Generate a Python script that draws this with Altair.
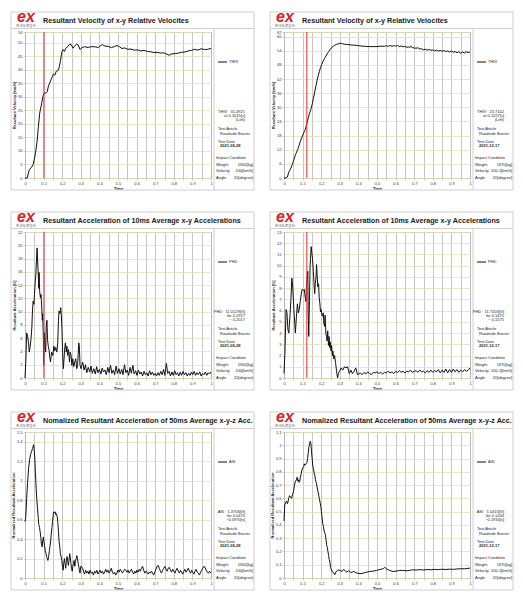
import altair as alt
import pandas as pd

# ---------------- data ----------------
TIME_TICKS = [round(i * 0.05, 2) for i in range(21)]

THIV_L = [(0,0),(0.012,0),(0.023,3.0),(0.035,4.0),(0.044,5.0),(0.056,9.0),(0.065,13.5),(0.072,19.0),
    (0.079,24.0),(0.088,27.0),(0.096,30.0),(0.102,31.3),(0.114,31.5),(0.12,32.0),(0.126,34.0),(0.135,35.5),
    (0.144,37.0),(0.153,38.5),(0.16,38.0),(0.168,39.5),(0.177,39.7),(0.184,41.0),(0.191,43.5),(0.198,46.5),
    (0.205,47.5),(0.212,46.8),(0.219,48.0),(0.23,48.6),(0.24,49.5),(0.249,49.3),(0.258,48.0),(0.267,48.8),
    (0.277,49.5),(0.286,49.2),(0.296,47.5),(0.307,48.2),(0.321,48.6),(0.333,48.3),(0.347,48.4),(0.36,48.6),
    (0.377,48.5),(0.395,48.3),(0.407,49.0),(0.416,49.3),(0.43,48.8),(0.447,48.7),(0.465,48.2),(0.482,48.7),
    (0.495,49.0),(0.509,48.5),(0.521,47.9),(0.535,48.1),(0.553,47.6),(0.57,47.7),(0.588,47.3),(0.605,47.4),
    (0.623,47.0),(0.64,47.2),(0.658,46.8),(0.675,46.7),(0.693,46.4),(0.71,46.5),(0.728,46.2),(0.746,46.3),
    (0.763,45.8),(0.775,45.4),(0.789,45.9),(0.807,46.0),(0.825,46.2),(0.842,46.5),(0.86,46.6),(0.877,47.0),
    (0.895,47.2),(0.912,47.6),(0.93,47.3),(0.947,47.8),(0.965,47.5),(0.982,47.6),(1.0,47.9)]

THIV_R = [(0,0),(0.01,0),(0.018,0.4),(0.026,2.5),(0.033,3.5),(0.039,4.6),(0.045,5.8),(0.05,7.0),(0.056,8.5),
    (0.062,10.0),(0.068,11.0),(0.074,12.2),(0.081,13.8),(0.088,15.6),(0.095,17.0),(0.102,18.4),(0.108,19.5),
    (0.114,20.5),(0.12,22.2),(0.126,24.0),(0.132,26.0),(0.137,27.4),(0.142,28.5),(0.146,29.5),(0.152,31.5),
    (0.158,33.7),(0.165,36.5),(0.172,39.2),(0.178,41.5),(0.184,43.4),(0.19,45.2),(0.196,46.8),(0.203,48.3),
    (0.21,49.6),(0.218,50.8),(0.225,51.7),(0.232,52.7),(0.24,53.7),(0.248,54.6),(0.256,55.4),(0.264,55.9),
    (0.272,56.3),(0.28,56.7),(0.289,56.9),(0.296,57.1),(0.304,57.2),(0.315,57.0),(0.325,56.8),(0.34,56.7),
    (0.36,56.5),(0.38,56.4),(0.4,56.2),(0.42,56.0),(0.44,55.9),(0.46,55.8),(0.48,55.8),(0.5,55.8),(0.52,56.0),
    (0.54,55.9),(0.55,56.2),(0.56,55.9),(0.57,56.3),(0.58,55.9),(0.59,56.2),(0.6,56.0),(0.61,56.3),(0.62,55.8),
    (0.63,56.1),(0.64,55.7),(0.65,55.9),(0.66,55.5),(0.67,55.7),(0.675,55.3),(0.68,56.0),(0.69,55.4),(0.7,55.2),
    (0.71,55.1),(0.72,55.3),(0.73,54.8),(0.74,54.9),(0.75,54.4),(0.76,54.7),(0.77,54.3),(0.78,54.6),(0.79,54.2),
    (0.8,54.4),(0.81,54.0),(0.82,54.3),(0.83,53.9),(0.84,54.2),(0.85,53.8),(0.86,54.1),(0.87,53.7),(0.88,54.0),
    (0.89,53.5),(0.9,53.9),(0.91,53.4),(0.92,53.7),(0.93,53.2),(0.94,53.6),(0.95,53.0),(0.96,53.5),(0.97,53.1),
    (0.98,53.6),(0.99,53.3),(1.0,53.5)]

PHD_L = [(0,0),(0.005,3.0),(0.009,6.8),(0.014,6.3),(0.019,5.3),(0.023,3.9),(0.028,4.8),(0.032,5.8),(0.037,7.7),
    (0.04,10.1),(0.044,11.6),(0.048,11.1),(0.051,12.6),(0.055,14.5),(0.058,15.5),(0.062,17.9),(0.065,19.6),
    (0.067,18.4),(0.07,16.4),(0.072,15.0),(0.074,13.5),(0.076,15.9),(0.079,13.0),(0.083,12.1),(0.086,12.6),
    (0.09,10.6),(0.093,8.7),(0.095,9.7),(0.099,5.8),(0.1,1.9),(0.104,6.8),(0.107,5.3),(0.111,3.9),(0.114,7.7),
    (0.118,8.7),(0.121,5.8),(0.125,4.8),(0.129,4.3),(0.132,3.4),(0.137,2.4),(0.143,3.9),(0.15,3.4),(0.155,4.8),
    (0.16,4.1),(0.165,4.6),(0.171,3.9),(0.176,5.3),(0.18,8.7),(0.183,10.1),(0.188,9.7),(0.192,10.6),(0.195,9.7),
    (0.199,7.2),(0.202,3.9),(0.206,1.4),(0.21,2.9),(0.213,4.3),(0.217,5.3),(0.222,3.9),(0.225,4.8),(0.229,3.4),
    (0.234,4.3),(0.239,2.4),(0.243,3.9),(0.248,3.4),(0.252,1.9),(0.257,2.9),(0.262,1.7),(0.268,2.4),(0.273,2.9),
    (0.278,1.4),(0.283,1.9),(0.289,5.3),(0.292,4.8),(0.296,1.9),(0.301,1.4),(0.31,2.4),(0.318,1.2),(0.325,2.0),
    (0.332,0.8),(0.34,1.6),(0.348,0.9),(0.355,1.8),(0.362,0.7),(0.37,1.4),(0.378,0.6),(0.385,1.7),(0.392,0.8),
    (0.4,1.3),(0.408,0.6),(0.415,1.5),(0.422,0.9),(0.43,1.2),(0.437,0.5),(0.445,1.6),(0.452,0.8),(0.46,1.9),
    (0.467,0.7),(0.475,1.2),(0.482,0.5),(0.49,1.8),(0.497,0.7),(0.505,1.4),(0.512,0.6),(0.52,1.3),(0.527,0.5),
    (0.535,2.0),(0.542,0.8),(0.55,1.2),(0.557,0.4),(0.565,1.6),(0.572,0.7),(0.58,1.9),(0.587,0.6),(0.595,1.1),
    (0.602,0.4),(0.61,1.2),(0.617,0.6),(0.625,0.9),(0.632,0.3),(0.64,1.0),(0.647,0.5),(0.655,0.8),(0.662,0.3),
    (0.67,1.1),(0.677,0.5),(0.685,0.9),(0.692,0.4),(0.7,0.7),(0.707,0.3),(0.715,0.8),(0.722,0.4),(0.73,1.0),
    (0.737,0.5),(0.745,1.3),(0.752,0.4),(0.76,2.2),(0.767,0.7),(0.775,1.0),(0.782,0.3),(0.79,0.9),(0.797,0.4),
    (0.805,1.1),(0.812,0.5),(0.82,0.8),(0.827,0.3),(0.835,0.9),(0.842,0.4),(0.85,1.0),(0.857,0.5),(0.865,0.8),
    (0.872,0.3),(0.88,0.7),(0.887,0.4),(0.895,0.9),(0.902,0.5),(0.91,1.0),(0.917,0.4),(0.925,0.8),(0.932,0.5),
    (0.94,0.9),(0.947,0.3),(0.955,0.7),(0.962,0.5),(0.97,0.9),(0.977,0.4),(0.985,0.8),(0.992,0.6),(1.0,0.9)]

PHD_R = [(0,0.4),(0.005,2.3),(0.011,6.1),(0.016,5.8),(0.021,4.3),(0.026,4.0),(0.032,5.5),(0.037,6.9),(0.042,8.9),
    (0.047,8.1),(0.053,6.1),(0.058,4.8),(0.061,4.0),(0.067,5.5),(0.072,6.6),(0.077,5.8),(0.082,6.1),(0.088,6.9),
    (0.093,7.5),(0.098,7.9),(0.104,7.8),(0.109,7.9),(0.114,7.2),(0.118,6.8),(0.121,8.4),(0.125,8.9),(0.128,9.5),
    (0.13,5.8),(0.133,3.7),(0.137,6.9),(0.14,9.8),(0.146,11.7),(0.149,11.2),(0.153,10.7),(0.158,9.5),(0.161,8.5),
    (0.165,7.5),(0.168,8.4),(0.172,8.9),(0.175,10.1),(0.179,8.9),(0.182,8.1),(0.186,8.4),(0.189,7.2),(0.193,6.6),
    (0.196,5.9),(0.2,6.1),(0.204,5.6),(0.207,5.5),(0.211,5.8),(0.214,4.9),(0.218,4.6),(0.221,5.6),(0.225,4.0),
    (0.228,3.7),(0.232,3.3),(0.235,4.2),(0.239,2.9),(0.242,3.7),(0.246,2.7),(0.249,3.2),(0.253,2.4),(0.256,2.9),
    (0.26,2.0),(0.263,2.4),(0.267,1.7),(0.272,2.0),(0.277,1.4),(0.282,0.7),(0.288,0.0),(0.293,0.4),(0.298,0.6),
    (0.307,0.9),(0.316,0.7),(0.325,1.0),(0.333,0.9),(0.342,1.0),(0.351,0.4),(0.36,0.7),(0.368,0.4),(0.377,0.6),
    (0.386,0.9),(0.395,0.3),(0.41,0.45),(0.42,0.3),(0.43,0.5),(0.44,0.35),(0.45,0.55),(0.46,0.4),(0.47,0.3),
    (0.48,0.5),(0.49,0.45),(0.5,0.55),(0.51,0.4),(0.52,0.5),(0.53,0.35),(0.54,0.5),(0.55,0.45),(0.56,0.6),
    (0.57,0.45),(0.58,0.55),(0.59,0.4),(0.6,0.6),(0.61,0.5),(0.62,0.65),(0.63,0.5),(0.64,0.6),(0.65,0.45),
    (0.66,0.6),(0.67,0.55),(0.68,0.7),(0.69,0.5),(0.7,0.6),(0.71,0.65),(0.72,0.5),(0.73,0.7),(0.74,0.55),
    (0.75,0.6),(0.76,0.45),(0.77,0.65),(0.78,0.5),(0.79,0.7),(0.8,0.5),(0.81,0.65),(0.82,0.55),(0.83,0.75),
    (0.84,0.45),(0.85,0.7),(0.86,0.5),(0.87,0.8),(0.88,0.45),(0.89,0.75),(0.9,0.5),(0.91,0.8),(0.92,0.55),
    (0.93,0.75),(0.94,0.5),(0.95,0.7),(0.96,0.55),(0.97,0.75),(0.98,0.6),(0.99,0.7),(1.0,0.9)]

ASI_L = [(0,0.58),(0.004,0.62),(0.009,0.82),(0.014,0.98),(0.019,1.12),(0.025,1.22),(0.03,1.27),(0.035,1.3),
    (0.041,1.33),(0.046,1.37),(0.049,1.33),(0.053,1.22),(0.056,1.08),(0.06,0.92),(0.063,0.82),(0.067,0.72),
    (0.071,0.62),(0.074,0.55),(0.078,0.52),(0.081,0.48),(0.085,0.42),(0.088,0.35),(0.092,0.32),(0.095,0.38),
    (0.099,0.42),(0.102,0.37),(0.106,0.32),(0.109,0.28),(0.113,0.25),(0.116,0.22),(0.12,0.2),(0.123,0.18),
    (0.127,0.22),(0.131,0.28),(0.134,0.32),(0.138,0.38),(0.141,0.45),(0.145,0.52),(0.148,0.58),(0.152,0.65),
    (0.155,0.68),(0.159,0.67),(0.162,0.68),(0.166,0.65),(0.169,0.66),(0.173,0.63),(0.176,0.58),(0.18,0.48),
    (0.183,0.38),(0.187,0.32),(0.19,0.25),(0.194,0.22),(0.198,0.18),(0.201,0.12),(0.205,0.08),(0.208,0.15),
    (0.212,0.2),(0.215,0.15),(0.219,0.1),(0.222,0.17),(0.226,0.22),(0.229,0.18),(0.233,0.13),(0.236,0.17),
    (0.24,0.25),(0.243,0.22),(0.247,0.15),(0.25,0.1),(0.254,0.07),(0.257,0.12),(0.261,0.15),(0.264,0.18),
    (0.268,0.12),(0.271,0.17),(0.275,0.2),(0.279,0.23),(0.282,0.2),(0.286,0.15),(0.289,0.12),(0.293,0.07),
    (0.296,0.05),(0.3,0.12),(0.303,0.12),(0.31,0.1),(0.315,0.06),(0.32,0.04),(0.326,0.08),(0.332,0.05),
    (0.338,0.07),(0.344,0.04),(0.35,0.08),(0.356,0.05),(0.362,0.06),(0.368,0.03),(0.374,0.07),(0.38,0.05),
    (0.386,0.08),(0.392,0.04),(0.398,0.06),(0.404,0.08),(0.41,0.05),(0.416,0.07),(0.422,0.04),(0.428,0.06),
    (0.434,0.09),(0.44,0.06),(0.446,0.08),(0.452,0.05),(0.458,0.07),(0.464,0.1),(0.47,0.06),(0.476,0.04),
    (0.482,0.06),(0.488,0.03),(0.494,0.05),(0.5,0.08),(0.506,0.06),(0.512,0.09),(0.518,0.07),(0.524,0.05),
    (0.53,0.07),(0.536,0.09),(0.542,0.08),(0.548,0.06),(0.554,0.08),(0.56,0.05),(0.566,0.07),(0.572,0.09),
    (0.578,0.06),(0.584,0.04),(0.59,0.07),(0.596,0.05),(0.602,0.08),(0.608,0.06),(0.614,0.09),(0.62,0.07),
    (0.626,0.1),(0.632,0.12),(0.638,0.08),(0.644,0.05),(0.65,0.07),(0.656,0.06),(0.662,0.04),(0.668,0.06),
    (0.674,0.05),(0.68,0.07),(0.686,0.05),(0.692,0.03),(0.698,0.06),(0.704,0.09),(0.71,0.12),(0.716,0.13),
    (0.722,0.1),(0.728,0.07),(0.734,0.05),(0.74,0.08),(0.746,0.1),(0.752,0.12),(0.758,0.09),(0.764,0.07),
    (0.77,0.1),(0.776,0.11),(0.782,0.08),(0.788,0.06),(0.794,0.09),(0.8,0.07),(0.806,0.05),(0.812,0.08),
    (0.818,0.1),(0.824,0.07),(0.83,0.05),(0.836,0.08),(0.842,0.06),(0.848,0.04),(0.854,0.07),(0.86,0.09),
    (0.866,0.06),(0.872,0.08),(0.878,0.1),(0.884,0.07),(0.89,0.05),(0.896,0.08),(0.902,0.06),(0.908,0.04),
    (0.914,0.07),(0.92,0.09),(0.926,0.06),(0.932,0.05),(0.938,0.03),(0.944,0.06),(0.95,0.08),(0.956,0.1),
    (0.962,0.12),(0.968,0.11),(0.974,0.08),(0.98,0.06),(0.986,0.05),(0.992,0.07),(1.0,0.05)]

ASI_R = [(0,0.43),(0.004,0.55),(0.009,0.57),(0.014,0.58),(0.018,0.56),(0.021,0.57),(0.025,0.6),(0.03,0.62),
    (0.035,0.61),(0.041,0.6),(0.046,0.63),(0.051,0.65),(0.056,0.7),(0.062,0.73),(0.067,0.74),(0.071,0.76),
    (0.074,0.73),(0.078,0.74),(0.081,0.72),(0.085,0.73),(0.088,0.76),(0.092,0.78),(0.095,0.81),(0.101,0.83),
    (0.106,0.84),(0.109,0.86),(0.113,0.85),(0.118,0.86),(0.123,0.87),(0.127,0.9),(0.131,0.95),(0.134,0.99),
    (0.138,1.01),(0.141,1.03),(0.145,1.01),(0.148,0.95),(0.152,0.89),(0.155,0.84),(0.159,0.82),(0.162,0.79),
    (0.166,0.77),(0.169,0.74),(0.173,0.72),(0.176,0.7),(0.18,0.67),(0.183,0.65),(0.187,0.62),(0.19,0.6),
    (0.194,0.57),(0.198,0.54),(0.201,0.5),(0.205,0.45),(0.208,0.41),(0.212,0.39),(0.215,0.36),(0.219,0.34),
    (0.222,0.33),(0.226,0.29),(0.229,0.25),(0.233,0.23),(0.236,0.2),(0.24,0.17),(0.243,0.14),(0.247,0.12),
    (0.25,0.08),(0.256,0.06),(0.261,0.044),(0.268,0.037),(0.273,0.025),(0.279,0.045),(0.286,0.057),(0.295,0.06),
    (0.303,0.057),(0.312,0.049),(0.321,0.066),(0.33,0.052),(0.339,0.044),(0.347,0.057),(0.356,0.044),
    (0.365,0.042),(0.374,0.049),(0.392,0.037),(0.409,0.032),(0.427,0.037),(0.444,0.044),(0.462,0.049),
    (0.48,0.052),(0.497,0.057),(0.515,0.064),(0.533,0.069),(0.541,0.081),(0.55,0.069),(0.568,0.057),
    (0.586,0.049),(0.603,0.052),(0.621,0.057),(0.638,0.057),(0.656,0.054),(0.674,0.057),(0.691,0.062),
    (0.71,0.06),(0.73,0.063),(0.75,0.06),(0.77,0.064),(0.79,0.062),(0.81,0.065),(0.83,0.063),(0.85,0.066),
    (0.87,0.064),(0.89,0.067),(0.91,0.065),(0.93,0.068),(0.95,0.07),(0.97,0.069),(0.99,0.073),(1.0,0.074)]

TITLES = ["Resultant Velocity of x-y Relative Velocites",
          "Resultant Acceleration of 10ms Average x-y Accelerations",
          "Nomalized Resultant Acceleration of 50ms Average x-y-z Acc."]
Y_TITLES = ["Resultant Velocity [km/h]", "Resultant Acceleration [G]", "Normalized Resultant Acceleration"]
LEGENDS = ["THIV", "PHD", "ASI"]
Y_MAX = [[54, 62], [22, 13], [1.5, 1.1]]
Y_STEP = [[5, 6], [2, 1], [0.2, 0.1]]
SERIES = [[THIV_L, THIV_R], [PHD_L, PHD_R], [ASI_L, ASI_R]]
STATS = [[["THIV : 31.4921", "at 0.1015[s]", "(Left)"], ["THIV : 23.7142", "at 0.1227[s]", "(Left)"]],
         [["PHD : 11.0129[G]", "for 0.1917", "~ 0.2017"], ["PHD : 11.7203[G]", "for 0.1475", "~ 0.1575"]],
         [["ASI : 1.3706[G]", "for 0.0470", "~0.0970[s]"], ["ASI : 1.0415[G]", "for 0.1434", "~0.1934[s]"]]]
RED_T = [[0.1015, 0.1227], [0.1015, 0.1227], [None, None]]
TEST_ARTICLE = "Roadside Barrier"
TEST_DATE = ["2021-09-28", "2021-12-17"]
WEIGHT = ["1300[kg]", "1370[kg]"]
VELOCITY = ["100[km/h]", "100.1[km/h]"]
ANGLE = ["20[degree]", "20[degree]"]

# ---------------- layout ----------------
W, H = 186, 146
FONT = "Liberation Sans"
FRAME = "#cfcfcf"
ONE = pd.DataFrame({"k": [0]})

X_SCALE = alt.Scale(domain=[0, 1], nice=False)
X_AXIS = alt.Axis(values=TIME_TICKS,
                  labelExpr="round(datum.value*20) % 2 == 0 ? format(datum.value, '.1~f') : ''")


def txt(s, x, y, size=4.0, align="left", bold=False, color="#222222", font=FONT, italic=False, baseline="middle"):
    kw = dict(align=align, baseline=baseline, fontSize=size, font=font, color=color)
    if bold:
        kw["fontWeight"] = "bold"
    if italic:
        kw["fontStyle"] = "italic"
    return alt.Chart(ONE).mark_text(**kw).encode(x=alt.value(x), y=alt.value(y), text=alt.value(s))


def hrule(x1, x2, y, color=FRAME, width=1.0):
    return alt.Chart(ONE).mark_rule(color=color, strokeWidth=width).encode(
        x=alt.value(x1), x2=alt.value(x2), y=alt.value(y))


def vrule(x, y1, y2, color=FRAME, width=1.0):
    return alt.Chart(ONE).mark_rule(color=color, strokeWidth=width).encode(
        x=alt.value(x), y=alt.value(y1), y2=alt.value(y2))


def panel(r, c):
    series = SERIES[r][c]
    df = pd.DataFrame({"t": [p[0] for p in series], "v": [p[1] for p in series]})
    ymax, ystep = Y_MAX[r][c], Y_STEP[r][c]
    n = int(ymax / ystep + 1e-9) + 1
    yvals = [round(i * ystep, 3) for i in range(n)]
    if abs(yvals[-1] - ymax) > 1e-9:
        yvals.append(ymax)

    layers = [
        alt.Chart(ONE).mark_rect(fillOpacity=0, stroke=FRAME, strokeWidth=1).encode(
            x=alt.value(-14), x2=alt.value(W + 43), y=alt.value(-20), y2=alt.value(H + 12)),
        hrule(-14, W + 43, -3.5),
        vrule(W + 3, -3.5, H + 12),
    ]
    line = alt.Chart(df).mark_line(color="#111111", strokeWidth=1.0).encode(
        x=alt.X("t:Q", title="Time", scale=X_SCALE, axis=X_AXIS),
        y=alt.Y("v:Q", title=Y_TITLES[r], scale=alt.Scale(domain=[0, ymax], nice=False),
                axis=alt.Axis(values=yvals, format="~g")),
    )
    layers.append(line)
    if RED_T[r][c] is not None:
        layers.append(alt.Chart(ONE).mark_rule(color="#ff2a2a", strokeWidth=1).encode(
            x=alt.datum(RED_T[r][c], title="Time", scale=X_SCALE, axis=X_AXIS)))

    # header
    layers.append(txt("ex", 1, -10.5, size=16, align="center", bold=True, italic=True,
                      color="#e0201e", baseline="alphabetic"))
    layers.append(txt("한국도로공사", 1, -5.6, size=3.6, align="center", color="#555555",
                      font="Noto Sans CJK KR"))
    layers.append(txt(TITLES[r], 18, -11.5, size=7.2, bold=True, color="#1a1a1a"))

    # side legend
    layers.append(hrule(W + 7, W + 16, 30, color="#111111", width=1))
    layers.append(txt(LEGENDS[r], W + 18, 30, size=4))

    s = STATS[r][c]
    layers += [
        txt(s[0], W + 34, 80, align="right"),
        txt(s[1], W + 34, 84, align="right"),
        txt(s[2], W + 34, 88, align="right"),
        txt("Test Article", W + 7, 97),
        txt(TEST_ARTICLE, W + 9, 101.5),
        txt("Test Date", W + 7, 110),
        txt(TEST_DATE[c], W + 9, 114, bold=True),
        txt("Impact Condition", W + 5, 126),
        txt("Weight", W + 5, 132.5),
        txt(WEIGHT[c], W + 42, 132.5, align="right"),
        txt("Velocity", W + 5, 139),
        txt(VELOCITY[c], W + 42, 139, align="right"),
        txt("Angle", W + 5, 146),
        txt(ANGLE[c], W + 42, 146, align="right"),
    ]
    return alt.layer(*layers).properties(width=W, height=H)


rows = [alt.hconcat(panel(r, 0), panel(r, 1), spacing=14) for r in range(3)]

chart = alt.vconcat(*rows, spacing=17).properties(
    padding={"left": 2, "top": 0, "right": 0, "bottom": 0},
    background="white",
).configure_view(
    stroke="#b4b4b4", strokeWidth=1
).configure_axis(
    labelFont=FONT, titleFont=FONT, labelFontSize=4, titleFontSize=4,
    labelColor="#333333", titleColor="#222222", tickSize=2, tickColor="#999999", tickWidth=0.5,
    domain=False, labelPadding=1, titlePadding=1, gridWidth=0.8,
    labelFlush=False, labelOverlap=False, titleFontWeight="bold",
).configure_axisX(
    gridColor="#b8b8b8"
).configure_axisY(
    gridColor="#e2e2b0"
)

chart.save("out.html", embed_options={"renderer": "svg", "actions": False})
